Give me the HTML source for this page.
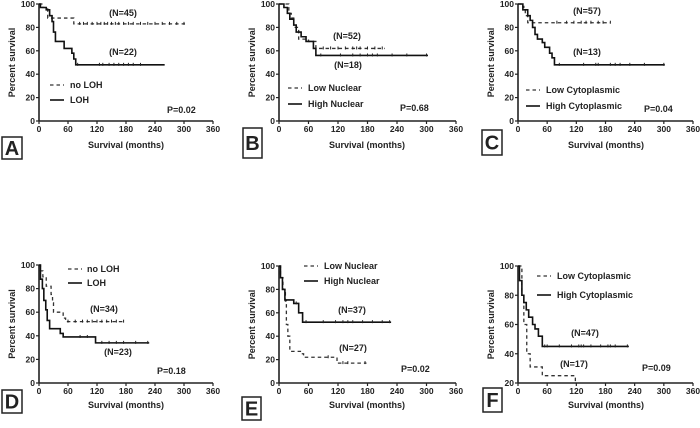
<!DOCTYPE html>
<html><head><meta charset="utf-8"><style>
html,body{margin:0;padding:0;background:#fff;width:700px;height:428px;overflow:hidden}
svg text{font-family:"Liberation Sans",Arial,sans-serif;font-weight:bold;fill:#222}
</style></head><body>
<svg id="fig" width="700" height="428" viewBox="0 0 700 428"></svg>
<script>
// ---- data (time in months, percent survival) ----
const A_dash_t=[0,8,18,72,302];           const A_dash_s=[100,97,88,83,83];
const A_dash_c=[84,92,100,110,120,128,135,142,150,158,165,175,185,195,210,225,240,255,270,285,300];
const A_solid_t=[0,3,15,22,27,30,34,52,65,68,72,76,260]; const A_solid_s=[100,97,95,90,85,76,68,62,62,58,53,48,48];
const A_solid_c=[80,125,132,145,155,165,175,185,195,210];
const B_dash_t=[0,20,25,30,40,60,75,215]; const B_dash_s=[100,92,88,80,70,68,62,62];
const B_dash_c=[90,105,120,135,150,158,165,180,195,210];
const B_solid_t=[0,10,17,22,30,35,45,55,70,75,303]; const B_solid_s=[100,97,92,87,82,76,72,68,62,56,56];
const B_solid_c=[85,125,150,165,180,190,200,230,260,300];
const C_dash_t=[0,10,12,15,20,190]; const C_dash_s=[100,98,95,90,84,84];
const C_dash_c=[80,100,115,130,140,150,165,175,190];
const C_solid_t=[0,10,20,25,30,35,40,50,55,65,70,75,302]; const C_solid_s=[100,95,90,86,80,74,70,67,63,58,54,48,48];
const C_solid_c=[85,135,160,165,190,200,210,230,260,300];
const D_dash_t=[0,3,8,15,25,28,30,50,55,178]; const D_dash_s=[100,95,90,82,75,68,60,55,52,52];
const D_dash_c=[60,75,90,100,110,120,130,140,150,160,175];
const D_solid_t=[0,3,7,10,14,17,22,40,44,50,117,228]; const D_solid_s=[100,88,80,70,62,53,46,46,42,39,34,34];
const D_solid_c=[85,100,130,145,160,175,200,225];
const E_dash_t=[0,3,8,13,15,18,22,45,50,118,178]; const E_dash_s=[100,90,80,70,50,40,27,25,22,17,17];
const E_dash_c=[100,130,140,175];
const E_solid_t=[0,3,7,12,30,40,48,228]; const E_solid_s=[100,90,80,71,68,60,52,52];
const E_solid_c=[35,55,90,115,130,140,150,170,190,210,225];
const F_dash_t=[0,8,12,18,25,50,118,120]; const F_dash_s=[100,80,60,40,31,25,20,20];
const F_dash_c=[];
const F_solid_t=[0,3,8,12,17,22,30,35,42,50,228]; const F_solid_s=[100,90,80,75,70,65,60,57,52,45,45];
const F_solid_c=[55,60,85,110,125,130,135,150,170,185,190,200,225];
const xTicks=[0,60,120,180,240,300,360];
const yTicksFull=[0,20,40,60,80,100];
const yTicksF=[20,40,60,80,100];

const NS="http://www.w3.org/2000/svg";
const svg=document.getElementById('fig');
function mk(tag,attrs,parent,name){const e=document.createElementNS(NS,tag);for(const k in attrs)e.setAttribute(k,attrs[k]);


(parent||svg).appendChild(e);return e;}
function txt(s,x,y,size,anchor,parent,name){const t=mk('text',{x:x,y:y,'font-size':size,'text-anchor':anchor||'start'},parent,name);t.textContent=s;return t;}

const panels=[
 {id:'A',x0:39,x1:213,y0:121,y1:4,ymin:0,yt:yTicksFull,box:[2,137,20,22],ytx:12,xt:[126,148],
  dash:[A_dash_t,A_dash_s,A_dash_c],solid:[A_solid_t,A_solid_s,A_solid_c],
  leg:[50,70,88,103],legText:['no LOH','LOH'],p:['P=0.02',167,113],n1:['(N=45)',123,16],n2:['(N=22)',123,55]},
 {id:'B',x0:279,x1:456,y0:121,y1:4,ymin:0,yt:yTicksFull,box:[243,128,19,30],ytx:252,xt:[367,148],
  dash:[B_dash_t,B_dash_s,B_dash_c],solid:[B_solid_t,B_solid_s,B_solid_c],
  leg:[288,308,91,107],legText:['Low Nuclear','High Nuclear'],p:['P=0.68',400,111],n1:['(N=52)',347,39],n2:['(N=18)',348,68]},
 {id:'C',x0:518,x1:693,y0:121,y1:4,ymin:0,yt:yTicksFull,box:[482,130,20,25],ytx:491,xt:[606,148],
  dash:[C_dash_t,C_dash_s,C_dash_c],solid:[C_solid_t,C_solid_s,C_solid_c],
  leg:[526,546,93,109],legText:['Low Cytoplasmic','High Cytoplasmic'],p:['P=0.04',644,112],n1:['(N=57)',587,14],n2:['(N=13)',587,55]},
 {id:'D',x0:39,x1:213,y0:383,y1:265,ymin:0,yt:yTicksFull,box:[2,390,20,23],ytx:12,xt:[126,408],
  dash:[D_dash_t,D_dash_s,D_dash_c],solid:[D_solid_t,D_solid_s,D_solid_c],
  leg:[68,87,272,286],legText:['no LOH','LOH'],p:['P=0.18',157,374],n1:['(N=34)',104,312],n2:['(N=23)',118,355]},
 {id:'E',x0:279,x1:456,y0:383,y1:266,ymin:0,yt:yTicksFull,box:[242,397,19,23],ytx:252,xt:[367,408],
  dash:[E_dash_t,E_dash_s,E_dash_c],solid:[E_solid_t,E_solid_s,E_solid_c],
  leg:[304,324,269,284],legText:['Low Nuclear','High Nuclear'],p:['P=0.02',401,372],n1:['(N=37)',352,313],n2:['(N=27)',353,351]},
 {id:'F',x0:518,x1:693,y0:383,y1:266,ymin:20,yt:yTicksF,box:[483,388,19,24],ytx:491,xt:[606,408],
  dash:[F_dash_t,F_dash_s,F_dash_c],solid:[F_solid_t,F_solid_s,F_solid_c],
  leg:[537,557,279,298],legText:['Low Cytoplasmic','High Cytoplasmic'],p:['P=0.09',642,371],n1:['(N=47)',585,336],n2:['(N=17)',574,367]}
];

panels.forEach(P=>{
 const g=mk('g',{},svg,'panel-'+P.id.toLowerCase());
 const X=t=>P.x0+(t/360)*(P.x1-P.x0);
 const Y=s=>P.y0-((s-P.ymin)/(100-P.ymin))*(P.y0-P.y1);
 mk('line',{x1:P.x0,y1:P.y1,x2:P.x0,y2:P.y0,stroke:'#222','stroke-width':1.6},g,'y-axis');
 mk('line',{x1:P.x0,y1:P.y0,x2:P.x1,y2:P.y0,stroke:'#222','stroke-width':1.6},g,'x-axis');
 P.yt.forEach(v=>{mk('line',{x1:P.x0-3,y1:Y(v),x2:P.x0,y2:Y(v),stroke:'#222','stroke-width':1.2},g,'y-tick');
  txt(String(v),P.x0-4,Y(v)+3,8.5,'end',g,'y-tick-label');});
 xTicks.forEach(v=>{mk('line',{x1:X(v),y1:P.y0,x2:X(v),y2:P.y0+3,stroke:'#222','stroke-width':1.2},g,'x-tick');
  txt(String(v),X(v),P.y0+11,8.5,'middle',g,'x-tick-label');});
 const yc=(P.y0+P.y1)/2;
 const yt=txt('Percent survival',P.ytx,yc,9,'middle',g,'y-axis-title');
 yt.setAttribute('transform','rotate(-90 '+(P.ytx)+' '+yc+')');
 yt.setAttribute('dy','3');
 txt('Survival (months)',P.xt[0],P.xt[1],9,'middle',g,'x-axis-title');
 function series(d,dash,name){
  const [t,s,c]=d;let p='M'+X(t[0])+','+Y(s[0]);
  for(let i=1;i<t.length;i++){p+=' H'+X(t[i])+' V'+Y(s[i]);}
  const a={d:p,fill:'none',stroke:dash?'#333':'#111','stroke-width':dash?1.3:1.6};
  if(dash)a['stroke-dasharray']='3.5,3';
  mk('path',a,g,name+'-curve');
  c.forEach(ct=>{let sv=s[0];for(let i=0;i<t.length;i++)if(t[i]<=ct)sv=s[i];
   mk('line',{x1:X(ct),y1:Y(sv)-2,x2:X(ct),y2:Y(sv)+1,stroke:'#222','stroke-width':1},g,name+'-censor');});
 }
 series(P.dash,true,'low-group');
 series(P.solid,false,'high-group');
 const [lx,tx,ly1,ly2]=P.leg;
 mk('line',{x1:lx,y1:ly1-3,x2:lx+14,y2:ly1-3,stroke:'#333','stroke-width':1.3,'stroke-dasharray':'3.5,3'},g,'legend-dash-swatch');
 mk('line',{x1:lx,y1:ly2-3,x2:lx+14,y2:ly2-3,stroke:'#111','stroke-width':1.6},g,'legend-solid-swatch');
 txt(P.legText[0],tx,ly1,9,'start',g,'legend-entry');
 txt(P.legText[1],tx,ly2,9,'start',g,'legend-entry');
 txt(P.p[0],P.p[1],P.p[2],9,'start',g,'p-value');
 txt(P.n1[0],P.n1[1],P.n1[2],9,'middle',g,'n-label');
 txt(P.n2[0],P.n2[1],P.n2[2],9,'middle',g,'n-label');
 const [bx,by,bw,bh]=P.box;
 mk('rect',{x:bx,y:by,width:bw,height:bh,fill:'#fff',stroke:'#222','stroke-width':1.5},g,'panel-letter-box');
 txt(P.id,bx+bw/2,by+bh/2+7,20,'middle',g,'panel-letter');
});
</script>
</body></html>
